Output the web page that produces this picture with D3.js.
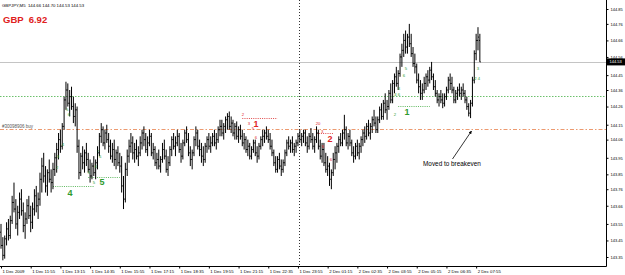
<!DOCTYPE html>
<html><head><meta charset="utf-8">
<script src="https://cdn.jsdelivr.net/npm/d3@7"></script>
<style>html,body{margin:0;padding:0;background:#fff;}svg{display:block;font-family:"Liberation Sans",Arial,sans-serif;}text{white-space:pre;}</style>
</head><body>
<svg id="c" width="625" height="275"></svg>
<script>
// GBPJPY M5 bars: [open, high, low, close], bar 0 = 1 Dec 10:35
const ohlc = [
[143.50,143.55,143.40,143.42],[143.42,143.47,143.33,143.36],[143.36,143.48,143.34,143.46],[143.46,143.56,143.42,143.52],[143.52,143.58,143.45,143.48],[143.48,143.60,143.46,143.57],
[143.57,143.72,143.55,143.68],[143.68,143.80,143.62,143.64],[143.64,143.70,143.52,143.55],[143.55,143.66,143.48,143.62],[143.62,143.74,143.58,143.70],[143.70,143.76,143.60,143.63],
[143.63,143.68,143.50,143.54],[143.54,143.62,143.46,143.58],[143.58,143.70,143.55,143.66],[143.66,143.72,143.58,143.60],[143.60,143.66,143.50,143.56],[143.56,143.68,143.52,143.64],
[143.64,143.76,143.60,143.72],[143.72,143.78,143.62,143.66],[143.66,143.74,143.58,143.70],[143.70,143.86,143.66,143.82],
[143.82,143.95,143.74,143.90],[143.90,143.98,143.80,143.84],[143.84,143.90,143.74,143.78],[143.78,143.88,143.72,143.86],[143.86,143.94,143.80,143.82],[143.82,143.88,143.74,143.80],
[143.80,143.92,143.76,143.88],[143.88,143.98,143.84,143.95],
[143.95,144.04,143.86,144.00],[144.00,144.10,143.94,144.06],[144.06,144.12,143.98,144.02],[144.02,144.16,144.00,144.14],
[144.14,144.32,144.12,144.30],[144.30,144.41,144.24,144.36],[144.36,144.40,144.26,144.28],[144.28,144.36,144.20,144.32],[144.32,144.38,144.24,144.26],[144.26,144.32,144.16,144.20],
[144.20,144.28,144.14,144.24],
[144.24,144.26,143.98,144.02],[144.02,144.06,143.82,143.86],
[143.86,143.98,143.84,143.96],[143.96,144.02,143.88,143.92],[143.92,144.00,143.86,143.98],[143.98,144.04,143.90,143.94],
[143.94,143.98,143.86,143.88],[143.88,143.94,143.80,143.84],[143.84,143.92,143.82,143.90],[143.90,143.96,143.84,143.86],[143.86,143.94,143.82,143.92],[143.92,144.02,143.88,143.98],
[143.98,144.10,143.96,144.08],[144.08,144.16,144.04,144.12],[144.12,144.14,144.02,144.04],[144.04,144.12,144.00,144.10],[144.10,144.15,144.04,144.06],[144.06,144.10,143.98,144.02],
[144.02,144.06,143.94,143.96],
[143.96,144.04,143.92,144.00],[144.00,144.06,143.90,143.94],[143.94,144.00,143.88,143.98],[143.98,144.02,143.90,143.92],[143.92,143.98,143.86,143.90],
[143.90,143.96,143.74,143.78],[143.78,143.84,143.64,143.70],[143.70,143.92,143.68,143.88],[143.88,144.00,143.84,143.96],
[143.96,144.06,143.92,144.02],[144.02,144.10,143.98,144.04],[144.04,144.08,143.94,143.98],[143.98,144.04,143.92,144.00],[144.00,144.06,143.94,143.96],[143.96,144.02,143.90,143.98],
[143.98,144.08,143.96,144.04],
[144.04,144.12,144.00,144.10],[144.10,144.14,144.02,144.06],[144.06,144.10,143.98,144.00],[144.00,144.08,143.96,144.04],[144.04,144.12,144.02,144.08],[144.08,144.10,143.96,143.98],
[143.98,144.04,143.94,144.00],
[144.00,144.02,143.90,143.92],[143.92,143.98,143.88,143.94],[143.94,144.00,143.88,143.90],[143.90,143.96,143.86,143.94],
[143.94,144.04,143.92,144.00],[144.00,144.06,143.94,143.96],[143.96,144.00,143.86,143.88],[143.88,143.96,143.84,143.92],[143.92,144.02,143.90,144.00],[144.00,144.08,143.96,144.06],
[144.06,144.10,144.00,144.02],[144.02,144.08,143.96,144.04],[144.04,144.12,144.02,144.08],[144.08,144.10,143.98,144.00],[144.00,144.04,143.92,143.96],[143.96,144.06,143.94,144.04],
[144.04,144.12,144.02,144.10],[144.10,144.14,144.04,144.06],[144.06,144.10,143.96,143.98],[143.98,144.02,143.90,143.94],[143.94,144.00,143.88,143.98],[143.98,144.08,143.96,144.06],
[144.06,144.14,144.02,144.10],[144.10,144.12,144.00,144.02],[144.02,144.06,143.96,144.00],
[144.00,144.04,143.92,143.96],[143.96,144.02,143.90,143.94],[143.94,144.04,143.92,144.02],[144.02,144.08,143.98,144.06],[144.06,144.10,144.00,144.02],[144.02,144.08,143.98,144.04],
[144.04,144.10,144.02,144.08],[144.08,144.12,144.02,144.04],[144.04,144.10,144.00,144.06],[144.06,144.14,144.04,144.12],[144.12,144.18,144.08,144.14],
[144.14,144.18,144.08,144.10],[144.10,144.16,144.06,144.14],[144.14,144.20,144.10,144.18],[144.18,144.22,144.12,144.20],[144.20,144.23,144.12,144.14],[144.14,144.20,144.10,144.16],
[144.16,144.18,144.08,144.10],[144.10,144.16,144.06,144.14],[144.14,144.17,144.06,144.08],[144.08,144.14,144.04,144.12],[144.12,144.15,144.06,144.08],[144.08,144.12,144.02,144.04],
[144.04,144.10,144.00,144.06],[144.06,144.08,143.98,144.00],[144.00,144.06,143.96,144.02],[144.02,144.04,143.94,143.96],[143.96,144.02,143.94,144.00],[144.00,144.06,143.98,144.04],
[144.04,144.06,143.96,143.98],[143.98,144.02,143.92,143.96],[143.96,144.04,143.94,144.02],[144.02,144.08,144.00,144.06],[144.06,144.12,144.02,144.08],
[144.08,144.12,144.04,144.10],[144.10,144.14,144.06,144.08],[144.08,144.12,144.04,144.06],[144.06,144.10,144.00,144.02],[144.02,144.06,143.96,143.98],
[143.98,144.00,143.90,143.92],[143.92,143.96,143.86,143.88],[143.88,143.96,143.86,143.94],[143.94,143.98,143.88,143.90],[143.90,143.94,143.84,143.88],[143.88,143.94,143.86,143.92],
[143.92,144.00,143.90,143.98],
[143.98,144.06,143.96,144.04],[144.04,144.08,144.00,144.02],[144.02,144.06,143.98,144.04],[144.04,144.08,143.98,144.00],[144.00,144.04,143.96,144.02],[144.02,144.06,143.98,144.04],
[144.04,144.10,144.02,144.08],
[144.08,144.12,144.04,144.06],[144.06,144.10,144.02,144.08],[144.08,144.12,144.04,144.10],[144.10,144.12,144.02,144.04],[144.04,144.08,143.98,144.02],[144.02,144.10,144.00,144.08],
[144.08,144.13,144.04,144.06],[144.06,144.10,144.00,144.02],[144.02,144.08,143.98,144.06],[144.06,144.14,144.04,144.10],
[144.10,144.12,144.00,144.02],[144.02,144.06,143.94,143.96],[143.96,144.04,143.92,144.00],[144.00,144.04,143.90,143.92],[143.92,143.98,143.86,143.88],[143.88,143.96,143.84,143.90],
[143.90,143.92,143.78,143.82],[143.82,143.88,143.76,143.86],[143.86,143.98,143.84,143.94],
[143.94,144.02,143.88,143.98],[143.98,144.04,143.92,144.02],[144.02,144.08,143.98,144.06],[144.06,144.10,144.02,144.04],[144.04,144.12,144.02,144.10],[144.10,144.21,144.06,144.12],
[144.12,144.14,144.02,144.04],[144.04,144.10,144.00,144.08],[144.08,144.12,144.02,144.04],
[144.04,144.06,143.96,143.98],[143.98,144.02,143.92,143.96],[143.96,144.04,143.94,144.02],[144.02,144.06,143.96,143.98],[143.98,144.04,143.94,144.02],
[144.02,144.08,143.98,144.06],[144.06,144.12,144.02,144.10],[144.10,144.14,144.04,144.08],[144.08,144.16,144.06,144.14],[144.14,144.18,144.08,144.10],[144.10,144.16,144.06,144.14],
[144.14,144.20,144.10,144.18],[144.18,144.24,144.14,144.16],[144.16,144.20,144.10,144.12],[144.12,144.20,144.10,144.18],[144.18,144.26,144.16,144.24],[144.24,144.28,144.18,144.20],
[144.20,144.30,144.18,144.28],[144.28,144.34,144.22,144.24],[144.24,144.30,144.18,144.26],[144.26,144.36,144.24,144.34],[144.34,144.40,144.28,144.30],[144.30,144.42,144.28,144.40],
[144.40,144.46,144.34,144.44],[144.44,144.50,144.38,144.40],[144.40,144.48,144.36,144.46],[144.46,144.58,144.44,144.56],[144.56,144.64,144.50,144.60],
[144.60,144.70,144.56,144.66],[144.66,144.72,144.58,144.62],[144.62,144.70,144.58,144.68],[144.68,144.76,144.62,144.64],[144.64,144.70,144.56,144.58],
[144.58,144.62,144.50,144.52],[144.52,144.58,144.46,144.50],
[144.50,144.52,144.40,144.42],[144.42,144.46,144.34,144.38],[144.38,144.42,144.30,144.34],[144.34,144.40,144.30,144.36],[144.36,144.44,144.34,144.40],
[144.40,144.46,144.36,144.44],[144.44,144.48,144.38,144.42],[144.42,144.50,144.40,144.48],[144.48,144.53,144.42,144.44],[144.44,144.46,144.36,144.38],[144.38,144.42,144.32,144.34],
[144.34,144.36,144.28,144.30],[144.30,144.34,144.26,144.32],[144.32,144.36,144.28,144.30],[144.30,144.34,144.25,144.28],[144.28,144.34,144.26,144.32],[144.32,144.38,144.30,144.36],
[144.36,144.44,144.34,144.42],[144.42,144.46,144.36,144.40],[144.40,144.44,144.34,144.36],[144.36,144.38,144.28,144.30],[144.30,144.36,144.28,144.34],[144.34,144.38,144.30,144.36],
[144.36,144.40,144.32,144.34],[144.34,144.38,144.30,144.36],[144.36,144.40,144.32,144.34],
[144.34,144.36,144.28,144.30],[144.30,144.32,144.24,144.26],[144.26,144.28,144.20,144.22],[144.22,144.30,144.19,144.28],
[144.28,144.44,144.26,144.42],[144.42,144.60,144.40,144.58],[144.58,144.70,144.54,144.66],[144.66,144.74,144.60,144.68],[144.66,144.70,144.53,144.53]
];

const priceTicks = [144.85,144.76,144.66,144.56,144.45,144.36,144.26,144.15,144.06,143.95,143.85,143.76,143.66,143.55,143.45,143.35];
const timeTickBars = [0,16,32,48,64,80,96,112,128,144,160,176,192,208,224,240,256];
const timeLabels = ["1 Dec 2009","1 Dec 11:55","1 Dec 13:15","1 Dec 14:35","1 Dec 15:55","1 Dec 17:15","1 Dec 18:35","1 Dec 19:55","1 Dec 21:15","1 Dec 22:35","1 Dec 23:55","2 Dec 01:15","2 Dec 02:35","2 Dec 03:55","2 Dec 05:15","2 Dec 06:35","2 Dec 07:55"];

const symbolHeader = "GBPJPY,M5  144.66 144.70 144.53 144.53";
const titleText = "GBP  6.92";
const currentPrice = 144.53;
const orderPrice = 144.125, orderLabel = "#30098906 buy";
const greenLevel = 144.324;
const daySeparatorBar = 160.5;
// dotted level segments: [startBar, endBar, price, colour-key]
const segments = [[28,50.5,143.78,"g"],[47,64,143.835,"g"],[214,231,144.264,"g"],[130,149,144.19,"r"],[170,179,144.10,"r"]];
// big labels: [bar, price, text, colour-key]
const bigLabels = [[37.2,143.738,"4","g"],[54.4,143.805,"5","g"],[218.8,144.228,"1","g"],[137.4,144.155,"1","r"],[177.3,144.065,"2","r"]];
// small labels: [bar, price, text, colour-key]
const smallLabels = [[35.6,144.24,"5","g"],[36.6,144.21,"6","g"],[33.4,144.03,"4","g"],[30.7,143.96,"3","g"],[30.2,143.89,"2","g"],
[52.3,143.99,"7","g"],[53.4,143.96,"6","g"],[51.2,143.90,"6","g"],[47.4,143.86,"5","g"],[50.1,143.80,"5","g"],
[212.3,144.21,"2","g"],[214.4,144.37,"3","g"],[213.4,144.33,"4 6","g"],[218.2,144.49,"5","g"],[217.1,144.45,"6","g"],
[257,144.49,"3","g"],[256.5,144.43,"2 4","g"],
[130.4,144.21,"2","r"],[133.6,144.16,"3","r"],[135.8,144.13,"5","r"],[137.4,144.07,"6","r"],
[170.8,144.16,"20","r"],[173,144.11,"3","r"],[173.5,144.02,"5","r"],[177.8,143.94,"6","r"]];
const note = "Moved to breakeven";
const colours = {g:"#2f9a2f", r:"#e02424"};

const svg = d3.select("#c");
const x = d3.scaleLinear().domain([0, 258]).range([1, 1 + 258 * 1.856]);
const y = d3.scaleLinear().domain([143.35, 144.85]).range([257, 9]);
const plotRight = 606, plotBottom = 266;
const snap = v => Math.round(v) + 0.5;

// horizontal levels
svg.append("line").attr("x1",0).attr("x2",plotRight).attr("y1",snap(y(currentPrice))).attr("y2",snap(y(currentPrice)))
  .attr("stroke","#c4c4c4").attr("stroke-width",1);
svg.append("line").attr("x1",0).attr("x2",plotRight).attr("y1",snap(y(greenLevel))).attr("y2",snap(y(greenLevel)))
  .attr("stroke","#6cc06c").attr("stroke-width",1).attr("stroke-dasharray","1.5,1.5");
svg.append("line").attr("x1",0).attr("x2",plotRight).attr("y1",snap(y(orderPrice))).attr("y2",snap(y(orderPrice)))
  .attr("stroke","#ec9a70").attr("stroke-width",1).attr("stroke-dasharray","4,2,1.5,2");
svg.append("text").attr("x",2).attr("y",y(orderPrice)-0.8).attr("font-size",4.5).attr("fill","#555").text(orderLabel);

// day separator
svg.append("line").attr("x1",snap(x(daySeparatorBar))).attr("x2",snap(x(daySeparatorBar))).attr("y1",0).attr("y2",plotBottom)
  .attr("stroke","#333").attr("stroke-width",1).attr("stroke-dasharray","1,2");

// segments
svg.selectAll("line.seg").data(segments).join("line").attr("class","seg")
  .attr("x1",d=>x(d[0])).attr("x2",d=>x(d[1])).attr("y1",d=>snap(y(d[2]))).attr("y2",d=>snap(y(d[2])))
  .attr("stroke",d=>d[3]==="g"?"#5fb85f":"#e04a4a").attr("stroke-width",1).attr("stroke-dasharray","1,1.2");

// bars
const g = svg.append("g").attr("stroke","#000").attr("stroke-width",1);
ohlc.forEach((b,i)=>{
  const cx = x(i);
  g.append("line").attr("x1",cx).attr("x2",cx).attr("y1",y(b[1])).attr("y2",y(b[2]));
  g.append("line").attr("x1",cx-0.9).attr("x2",cx).attr("y1",y(b[0])).attr("y2",y(b[0]));
  g.append("line").attr("x1",cx).attr("x2",cx+0.9).attr("y1",y(b[3])).attr("y2",y(b[3]));
});

// labels
svg.selectAll("text.small").data(smallLabels).join("text").attr("class","small")
  .attr("x",d=>x(d[0])).attr("y",d=>y(d[1])).attr("text-anchor","middle").attr("dominant-baseline","central")
  .attr("font-size",4.2).attr("fill",d=>colours[d[3]]).text(d=>d[2]);
svg.selectAll("text.big").data(bigLabels).join("text").attr("class","big")
  .attr("x",d=>x(d[0])).attr("y",d=>y(d[1])).attr("text-anchor","middle").attr("dominant-baseline","central")
  .attr("font-size",9).attr("font-weight","bold").attr("fill",d=>colours[d[3]]).text(d=>d[2]);

// header
svg.append("text").attr("x",2).attr("y",7).attr("font-size",4.3).attr("fill","#000").text(symbolHeader);
svg.append("text").attr("x",3).attr("y",22.5).attr("font-size",9.5).attr("font-weight","bold").attr("fill","#e02020").text(titleText);

// note + arrow
svg.append("defs").append("marker").attr("id","ah").attr("viewBox","0 0 10 10").attr("refX",9).attr("refY",5)
  .attr("markerWidth",4).attr("markerHeight",4).attr("orient","auto")
  .append("path").attr("d","M0,0L10,5L0,10z").attr("fill","#000");
svg.append("line").attr("x1",452.5).attr("y1",159).attr("x2",471.5).attr("y2",131).attr("stroke","#000").attr("stroke-width",0.8).attr("marker-end","url(#ah)");
svg.append("text").attr("x",423).attr("y",166).attr("font-size",6.4).attr("fill","#000").text(note);

// axes
svg.append("line").attr("x1",plotRight+0.5).attr("x2",plotRight+0.5).attr("y1",0).attr("y2",plotBottom+0.5).attr("stroke","#000");
svg.append("line").attr("x1",0).attr("x2",plotRight+0.5).attr("y1",plotBottom+0.5).attr("y2",plotBottom+0.5).attr("stroke","#000");

const ya = svg.append("g").attr("transform",`translate(${plotRight+0.5},0)`)
  .call(d3.axisRight(y).tickValues(priceTicks).tickFormat(d3.format(".2f")).tickSize(2).tickPadding(2));
ya.select(".domain").remove();
ya.selectAll("text").attr("font-size",4).attr("font-family","Liberation Sans, Arial, sans-serif").attr("fill","#000");

const xa = svg.append("g").attr("transform",`translate(0,${plotBottom+0.5})`)
  .call(d3.axisBottom(x).tickValues(timeTickBars).tickFormat((d,i)=>timeLabels[i]).tickSize(2).tickPadding(1.5));
xa.select(".domain").remove();
xa.selectAll("text").attr("font-size",4.3).attr("font-family","Liberation Sans, Arial, sans-serif").attr("text-anchor","start").attr("dx",1).attr("fill","#000");

// current price box
const cy = y(currentPrice);
svg.append("rect").attr("x",plotRight+1).attr("y",cy-3.5).attr("width",18).attr("height",7).attr("fill","#000");
svg.append("text").attr("x",plotRight+3.5).attr("y",cy).attr("dominant-baseline","central").attr("font-size",4).attr("fill","#fff").text(d3.format(".2f")(currentPrice));
</script>
</body></html>
